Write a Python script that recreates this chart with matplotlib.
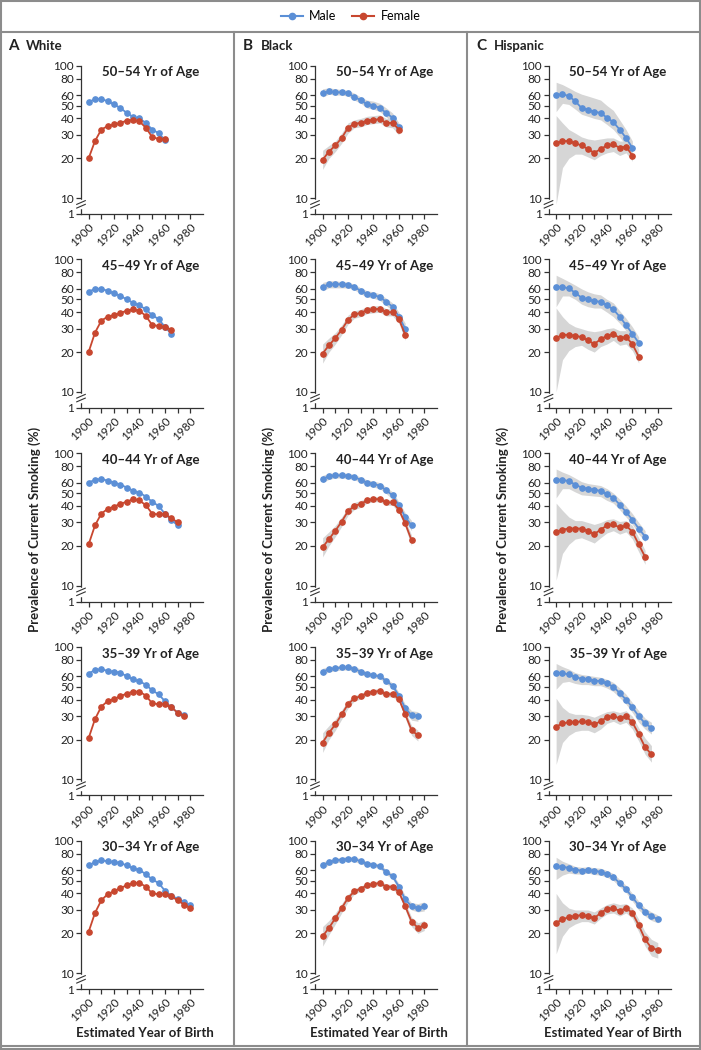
import numpy as np
import matplotlib as mpl
mpl.use('Agg')
import matplotlib.pyplot as plt
from matplotlib.lines import Line2D

plt.rcParams['font.family'] = ['Lato', 'DejaVu Sans']

# rows: 50-54, 45-49, 40-44, 35-39, 30-34 yr of age
ages = ['50\u201354 Yr of Age', '45\u201349 Yr of Age', '40\u201344 Yr of Age',
        '35\u201339 Yr of Age', '30\u201334 Yr of Age']
last_year = [1960, 1965, 1970, 1975, 1980]
races = ['White', 'Black', 'Hispanic']
letters = ['A', 'B', 'C']

white_male = [
    [53, 56, 56, 54, 51, 48, 44, 41, 40, 37, 33, 31, 27.5],
    [57, 60, 60, 58, 55.5, 53, 50, 47, 45, 42, 38, 35.5, 31, 27.5],
    [60, 63, 64, 62, 60, 58, 55, 52, 50.5, 47, 43, 40, 35, 31.5, 28.5],
    [63, 67, 68, 66, 65, 64, 60, 57, 55, 52, 47, 44, 39, 35, 32, 30.5],
    [65, 69, 71, 70, 69, 68, 65, 62, 60, 56, 51, 48, 42, 38.5, 36.5, 34.5, 32.5],
]
white_female = [
    [20, 27, 33, 35, 36, 37, 38.5, 39, 38, 34, 29, 28, 28],
    [20, 28, 34.5, 37, 38, 39.5, 41, 42, 41, 37.5, 32, 31.5, 31, 29.5],
    [20.5, 28.5, 35, 38, 39.5, 41.5, 43, 45, 44, 40.5, 35, 34.5, 34.5, 32.5, 30],
    [20.5, 28.5, 35.5, 39, 40.5, 42.5, 44.5, 46, 46, 43, 37.5, 37, 37, 35, 32, 30],
    [20.5, 28.5, 35.5, 39.5, 41.5, 44, 46, 48, 48, 45, 40, 39.5, 39.5, 38, 35.5, 33, 31],
]

black_male = [
    [62, 64, 63, 63, 62, 58, 55, 51, 50, 48, 44, 40.5, 34.5],
    [62, 65, 65, 65, 64.5, 62, 58, 55, 54, 52, 48, 44, 37, 30],
    [64, 67, 68, 68, 67.5, 66, 63, 60, 58.5, 57, 52.5, 48, 40.5, 33, 28.5],
    [65, 68, 69, 70, 70, 68.5, 65, 62.5, 61, 60, 55.5, 51, 43, 34.5, 30.5, 30],
    [65, 69, 71, 72, 73, 72.5, 70, 67, 66, 64, 58, 54, 45, 36, 32, 31, 32],
]
black_male_hi = [
    [67, 68, 67, 66, 65, 62, 58, 55, 54, 52, 48, 44, 37],
    [67, 69, 69, 68, 67.5, 65, 61, 58, 57, 55, 51, 47, 40, 33],
    [68, 70.5, 71, 71, 70.5, 69, 66, 63, 61.5, 60, 55.5, 51, 43, 35.5, 31],
    [69, 71, 72, 73, 73, 71.5, 68, 65, 63.5, 62.5, 58, 53.5, 45.5, 37, 33, 32.5],
    [69, 72, 74, 75, 76, 75.5, 73, 69.5, 68.5, 66.5, 60.5, 56.5, 47.5, 38.5, 34, 33.5, 34.5],
]
black_male_lo = [
    [58, 61, 60, 60, 59, 55, 52, 48, 47, 45, 41, 37, 32],
    [58, 61, 61, 61, 61, 59, 55, 52, 51, 49, 45, 41, 34, 27.5],
    [60, 63.5, 65, 65, 64.5, 63, 60, 57, 55.5, 54, 49.5, 45, 38, 30.5, 26],
    [61, 65, 66, 67, 67, 65.5, 62, 60, 58.5, 57.5, 53, 48.5, 40.5, 32, 28, 27.5],
    [61, 66, 68, 69, 70, 69.5, 67, 64.5, 63.5, 61.5, 55.5, 51.5, 42.5, 33.5, 30, 29, 29.5],
]
black_female = [
    [19.5, 22.5, 25, 28.5, 34, 36.5, 37, 38.5, 39, 39.5, 37, 37, 33],
    [19.5, 22.5, 25.5, 29.5, 35, 38.5, 39.5, 41.5, 42, 42.5, 40, 40, 35.5, 27],
    [19.5, 22.5, 26, 30.5, 36.5, 40, 41.5, 44, 45, 45, 42.5, 42.5, 37.5, 29.5, 22],
    [19, 22.5, 26, 31, 37, 41, 42.5, 45, 46, 46.5, 44, 44, 40.5, 31, 23.5, 21.5],
    [19, 22, 26, 31, 37, 41.5, 43.5, 46, 47, 48, 45, 45, 41, 32, 24.5, 22, 23],
]
black_female_hi = [
    [23, 25, 27, 31, 37, 39, 40, 41.5, 42, 42.5, 40, 40, 36],
    [23, 25.5, 28, 32, 38, 41, 42, 44, 44.5, 45, 42.5, 42.5, 38, 29.5],
    [23, 25.5, 28.5, 33, 39, 42.5, 44, 46, 47, 47, 44.5, 44.5, 39.5, 31.5, 24],
    [22.5, 25.5, 28.5, 33.5, 39.5, 43, 44.5, 47, 48, 48.5, 46, 46, 42.5, 33, 25.5, 23.5],
    [22.5, 25, 28.5, 33.5, 39.5, 43.5, 45.5, 48, 49, 50, 47, 47, 43, 34, 26.5, 24, 25],
]
black_female_lo = [
    [16.5, 20, 22.5, 26, 31, 34, 34.5, 36, 36.5, 37, 34.5, 34, 30],
    [16.5, 20, 23, 27, 32.5, 36, 37, 39, 39.5, 40, 37.5, 37.5, 33, 24.5],
    [16.5, 20, 23.5, 28, 34, 37.5, 39, 42, 43, 43, 40.5, 40.5, 35.5, 27.5, 20],
    [16, 20, 23.5, 28.5, 34.5, 39, 40.5, 43, 44, 44.5, 42, 42, 38.5, 29, 21.5, 19.5],
    [16, 19.5, 23.5, 28.5, 34.5, 39.5, 41.5, 44, 45, 46, 43, 43, 39, 30, 22.5, 20, 21],
]

hisp_male = [
    [60, 61, 59, 54, 48, 46.5, 45, 44, 40.5, 37.5, 33, 28.5, 24],
    [62, 62, 60.5, 56, 51.5, 50, 48.5, 48, 45, 42, 37, 32, 27.5, 23.5],
    [63, 63, 61.5, 58, 55, 54, 53, 52, 49, 46, 41, 36, 31.5, 27, 23.5],
    [64, 63.5, 62, 59.5, 57.5, 57.5, 55.5, 55.5, 53, 50, 45, 40, 35, 30, 26.5, 24.5],
    [64, 63.5, 62.5, 60.5, 59.5, 60.5, 59, 58.5, 56, 53, 48, 43, 37.5, 32.5, 29, 27, 25.5],
]
hisp_male_hi = [
    [75, 72, 68, 64, 61, 59, 57, 55, 50, 46, 39, 33, 27],
    [76, 72, 68, 64, 60, 57, 55, 54, 50, 47, 41, 36, 31, 26],
    [76, 72, 69, 65, 61, 59, 58, 57, 54, 50, 45, 40, 35, 30, 26],
    [75, 71, 68, 64, 62, 61, 60, 59, 57, 54, 49, 44, 38, 33, 29, 27],
    [75, 70, 67, 64, 63, 63.5, 62.5, 62, 59.5, 56.5, 51, 46, 40, 35, 31, 29, 27.5],
]
hisp_male_lo = [
    [45, 52, 51, 47, 43, 41.5, 40, 39, 36, 33, 29, 25, 22],
    [44, 53, 53, 50, 46, 44, 43, 43, 40, 37, 33, 29, 25, 21.5],
    [46, 54, 54, 51, 48.5, 48, 47.5, 47, 44, 42, 37.5, 33, 29, 24.5, 21.5],
    [48, 54, 55, 53, 52, 52, 51, 51, 49, 46, 41.5, 37, 32, 27, 24, 22],
    [51, 55, 57, 56, 56, 57, 55.5, 55, 53, 50, 45, 40.5, 35, 30, 27, 25, 24],
]
hisp_female = [
    [26, 27, 27, 26, 25, 23.5, 22, 23.5, 25, 25.5, 24, 24.5, 21],
    [25.5, 27, 27, 26.5, 26, 24.5, 23, 25, 26.5, 27.5, 25.5, 26, 23, 18.5],
    [25.5, 26.5, 27, 27, 27, 26, 24.5, 26.5, 28.5, 29, 27.5, 28.5, 25.5, 20.5, 16.5],
    [25, 26.5, 27, 27, 27.5, 27, 26, 27.5, 29.5, 30, 29, 30, 27, 22, 17.5, 15.5],
    [24, 25.5, 26.5, 27, 27.5, 27, 26, 28.5, 30.5, 31, 29.5, 31, 28.5, 23, 18, 15.5, 15],
]
hisp_female_hi = [
    [42, 37, 33, 31, 29, 28, 27.5, 28, 28.5, 28.5, 27, 27, 23],
    [43, 37, 33, 31, 30, 29, 28.5, 29, 30, 30.5, 29, 29, 26, 21],
    [42, 37, 33, 31, 31, 30, 29, 30, 31.5, 32, 30.5, 31, 28.5, 23, 18.5],
    [41, 35, 32, 31, 31, 30.5, 29.5, 31, 32.5, 33, 32, 33, 30, 24.5, 20.5, 18],
    [40, 34, 31, 30, 30, 30, 29, 31, 33, 34, 33, 33.5, 31, 25.5, 20.5, 18, 17],
]
hisp_female_lo = [
    [9, 17, 20, 21.5, 21.5, 20.5, 19.5, 21, 22, 22.5, 21, 22, 19],
    [10, 17.5, 20.5, 22, 22.5, 21, 20, 22, 23, 24.5, 22.5, 23, 20.5, 16.5],
    [11, 17.5, 20.5, 22.5, 23, 22, 21, 23, 25, 26, 24.5, 25.5, 22.5, 18, 14.5],
    [13, 19, 21.5, 23, 23.5, 23.5, 22.5, 24, 26.5, 27.5, 26, 27, 24, 19.5, 15.5, 13.5],
    [14, 19, 22, 23.5, 24.5, 24.5, 23.5, 26, 28, 28.5, 27, 28.5, 26, 20.5, 16, 13.5, 13],
]

male_c = '#5b8fd6'
female_c = '#c8472f'
band_c = '#d6d6d6'
frame_c = '#8c8c8c'
axis_c = '#333333'

W, H = 701, 1050
fig = plt.figure(figsize=(W / 100, H / 100), dpi=100)

col_left = [81, 315, 548.5]
ax_w = 122
row_top = [65.7 + 193.75 * i for i in range(5)]
ax_h = 148.3
ybottom = 7.6

columns = [
    (white_male, None, None, white_female, None, None),
    (black_male, black_male_lo, black_male_hi, black_female, black_female_lo, black_female_hi),
    (hisp_male, hisp_male_lo, hisp_male_hi, hisp_female, hisp_female_lo, hisp_female_hi),
]

for c in range(3):
    m, mlo, mhi, f, flo, fhi = columns[c]
    for r in range(5):
        ax = fig.add_axes([col_left[c] / W, 1 - (row_top[r] + ax_h) / H, ax_w / W, ax_h / H])
        years = np.arange(1900, last_year[r] + 1, 5)
        if mlo is not None:
            ax.fill_between(years, mlo[r], mhi[r], color=band_c, lw=0, zorder=1)
            ax.fill_between(years, flo[r], fhi[r], color=band_c, lw=0, zorder=1)
        ax.plot(years, m[r], color=male_c, marker='o', ms=3.8, lw=1.3, zorder=3, clip_on=False)
        ax.plot(years, f[r], color=female_c, marker='o', ms=3.8, lw=1.3, zorder=4, clip_on=False)

        ax.set_yscale('log')
        ax.set_ylim(ybottom, 100)
        ax.set_xlim(1894, 1990)
        ax.set_yticks([ybottom, 10, 20, 30, 40, 50, 60, 80, 100])
        ax.set_yticklabels(['1', '10', '20', '30', '40', '50', '60', '80', '100'])
        ax.yaxis.set_minor_locator(mpl.ticker.NullLocator())
        ax.set_xticks([1900, 1920, 1940, 1960, 1980])
        ax.set_xticks([1910, 1930, 1950, 1970], minor=True)
        ax.set_xticklabels(['1900', '1920', '1940', '1960', '1980'], rotation=45,
                           ha='right', rotation_mode='anchor')
        ax.tick_params(axis='both', which='both', direction='out', length=3.5, width=0.9,
                       color=axis_c, labelsize=8.5, labelcolor='#222222', pad=1.5)
        ax.tick_params(axis='x', which='major', pad=2)
        for s in ['top', 'right']:
            ax.spines[s].set_visible(False)
        for s in ['left', 'bottom']:
            ax.spines[s].set_color(axis_c)
            ax.spines[s].set_linewidth(0.9)
        ax.patch.set_alpha(0)

        # axis break between 1 and 10
        ax.plot([0, 0], [0.045, 0.085], transform=ax.transAxes, color='white', lw=2.5,
                clip_on=False, zorder=6)
        for dy in [0.04, 0.065]:
            ax.plot([-0.035, 0.035], [dy, dy + 0.025], transform=ax.transAxes,
                    color=axis_c, lw=0.8, clip_on=False, zorder=7)

        ax.text(0.57, 0.955, ages[r], transform=ax.transAxes, ha='center', va='center',
                fontsize=9.5, fontweight='bold', color='#222222')

    # panel header
    hx = [8, 243, 476][c]
    fig.text(hx / W, 1 - 46 / H, letters[c], fontsize=11, fontweight='bold',
             color='#222222', va='center')
    fig.text((hx + 18) / W, 1 - 46 / H, races[c], fontsize=9.5, fontweight='bold',
             color='#222222', va='center')

    # axis labels
    fig.text((col_left[c] - 46) / W, 1 - 529 / H, 'Prevalence of Current Smoking (%)',
             rotation=90, ha='center', va='center', fontsize=9.5, fontweight='bold',
             color='#222222')
    fig.text((col_left[c] + 64) / W, 1 - 1033 / H, 'Estimated Year of Birth',
             ha='center', va='center', fontsize=9.5, fontweight='bold', color='#222222')

# legend
handles = [Line2D([], [], color=male_c, marker='o', ms=4.5, lw=1.5),
           Line2D([], [], color=female_c, marker='o', ms=4.5, lw=1.5)]
fig.legend(handles, ['Male', 'Female'], loc='center', bbox_to_anchor=(0.5, 1 - 16 / H),
           ncol=2, frameon=False, fontsize=9, handlelength=1.8, columnspacing=1.2,
           handletextpad=0.5)

# frame lines
def hline(y, x0=0, x1=W):
    fig.add_artist(Line2D([x0 / W, x1 / W], [1 - y / H, 1 - y / H], color=frame_c, lw=1.5))

def vline(x, y0, y1):
    fig.add_artist(Line2D([x / W, x / W], [1 - y0 / H, 1 - y1 / H], color=frame_c, lw=1.5))

hline(0.8)
hline(32)
hline(1046)
hline(1049.2)
vline(0.8, 0, H)
vline(700.2, 0, H)
vline(234, 32, 1046)
vline(467, 32, 1046)

plt.savefig('out.png', dpi=100)
